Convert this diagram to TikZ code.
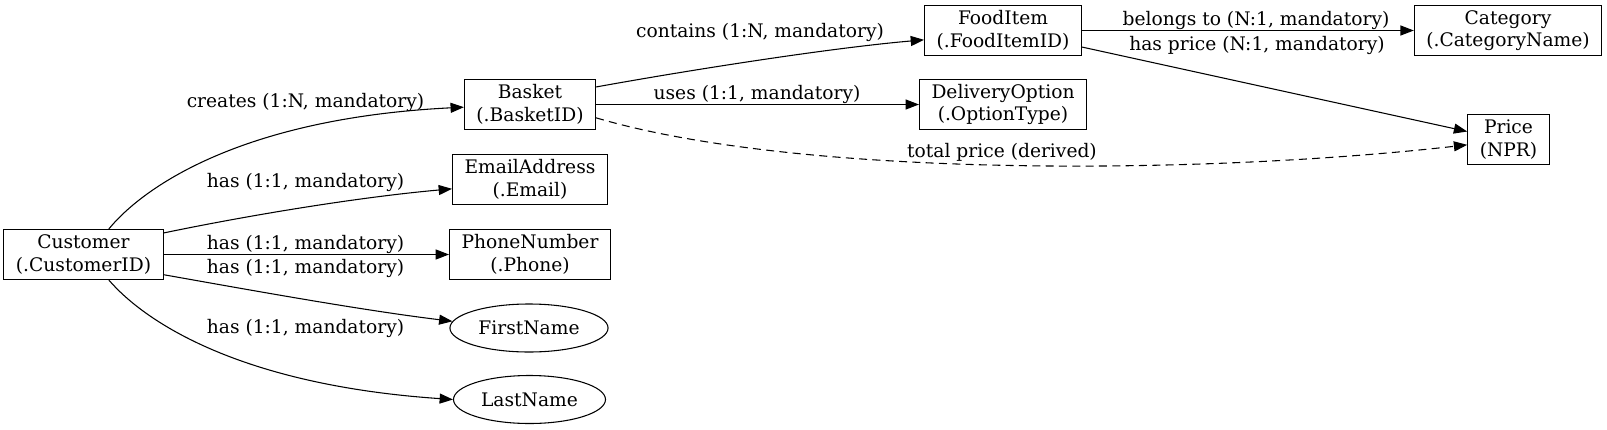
\documentclass[tikz,border=0pt]{standalone}
\usepackage{fontspec}
\setmainfont{DejaVu Serif}
\usetikzlibrary{shapes,arrows.meta}
\tikzset{>={Triangle[length=10pt,width=7.5pt]}}
\tikzset{
  ent/.style={draw,rectangle,align=center,inner xsep=9pt,inner ysep=2pt,minimum height=37.5pt,minimum width=54pt},
  attr/.style={draw,ellipse,inner xsep=4pt,minimum height=36pt},
  rel/.style={->},
  lbl/.style={inner sep=0pt}
}

\begin{document}
\begin{tikzpicture}[x=.75pt,y=-.75pt,font=\fontsize{14}{16.8}\selectfont,line width=.8pt]
    \useasboundingbox (0,0) rectangle (1607,429);

    \node[ent] (customer) at (83.5,254.5) {Customer\\(.CustomerID)};
    \node[ent] (basket) at (530,104.5) {Basket\\(.BasketID)};
    \node[ent] (email) at (530,179.5) {EmailAddress\\(.Email)};
    \node[ent] (phone) at (530,254.5) {PhoneNumber\\(.Phone)};
    \node[attr] (first) at (529,328) {FirstName};
    \node[attr] (last) at (529.5,399.5) {LastName};
    \node[ent] (food) at (1003,30.5) {FoodItem\\(.FoodItemID)};
    \node[ent] (delivery) at (1003,104.5) {DeliveryOption\\(.OptionType)};
    \node[ent] (category) at (1508,30.5) {Category\\(.CategoryName)};
    \node[ent] (price) at (1508.5,139.5) {Price\\(NPR)};

    % customer side
    \draw[rel] ([xshift=19pt]customer.north) .. controls (145,185) and (245,118) .. ([yshift=-2pt]basket.west);
    \draw[rel] ([yshift=-3pt]customer.north east) .. controls (250,215) and (360,197) .. ([yshift=-7pt]email.west);
    \draw[rel] (customer.east) -- (phone.west);
    \draw[rel] ([yshift=4pt]customer.south east) .. controls (250,290) and (360,310) .. (first.175);
    \draw[rel] ([xshift=19pt]customer.south) .. controls (145,322) and (240,385) .. (last.west);

    \node[lbl] (lcreates) at (305.5,102) {creates (1:N, mandatory)};
    \node[lbl] (lemail) at (305.5,182) {has (1:1, mandatory)};
    \node[lbl] (lphone) at (305.5,244) {has (1:1, mandatory)};
    \node[lbl] (lfirst) at (305.5,268) {has (1:1, mandatory)};
    \node[lbl] (llast) at (305.5,328) {has (1:1, mandatory)};

    % basket and food item
    \draw[rel] ([yshift=-6pt]basket.north east) .. controls (690,70) and (830,48) .. ([yshift=-7pt]food.west);
    \draw[rel] (basket.east) -- (delivery.west);
    \draw[rel,dash pattern=on 6pt off 4pt] ([yshift=-10pt]basket.east) .. controls (800,178) and (1200,175) .. ([yshift=-4pt]price.west);
    \draw[rel] (food.east) -- (category.west);
    \draw[rel] ([yshift=-12.4pt]food.east) -- ([yshift=6pt]price.west);

    \node[lbl] (lcontains) at (760,32) {contains (1:N, mandatory)};
    \node[lbl] (luses) at (757,94) {uses (1:1, mandatory)};
    \node[lbl] (ltotal) at (1002,152) {total price (derived)};
    \node[lbl] (lbelongs) at (1256,20) {belongs to (N:1, mandatory)};
    \node[lbl] (lprice) at (1257,45) {has price (N:1, mandatory)};
\end{tikzpicture}
\end{document}
